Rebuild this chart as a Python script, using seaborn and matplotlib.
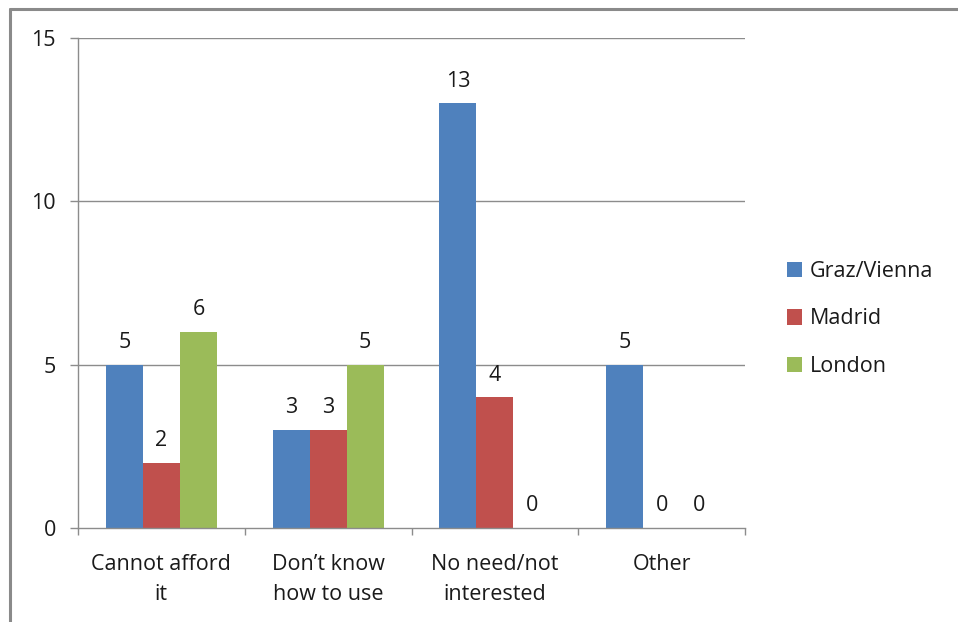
import matplotlib
matplotlib.use("Agg")
import matplotlib.pyplot as plt
from matplotlib.lines import Line2D
from matplotlib.patches import Patch
import seaborn as sns
import pandas as pd

categories = ["Cannot afford\nit", "Don\u2019t know\nhow to use", "No need/not\ninterested", "Other"]
series_names = ["Graz/Vienna", "Madrid", "London"]
graz_vienna = [5, 3, 13, 5]
madrid = [2, 3, 4, 0]
london = [6, 5, 0, 0]
y_ticks = [0, 5, 10, 15]
colors = ["#4F81BD", "#C0504D", "#9BBB59"]

rows = []
for name, vals in zip(series_names, [graz_vienna, madrid, london]):
    for c, v in zip(categories, vals):
        rows.append({"category": c, "series": name, "value": v})
df = pd.DataFrame(rows)

sns.set_theme(style="white")
plt.rcParams["font.family"] = ["Open Sans", "DejaVu Sans"]
FS = 15.5

fig = plt.figure(figsize=(9.58, 6.22), dpi=100)
ax = fig.add_axes([78/958, 1-528/622, (745-78)/958, (528-38)/622])

sns.barplot(data=df, x="category", y="value", hue="series", order=categories,
            hue_order=series_names, palette=colors, width=2/3, dodge=True,
            saturation=1, ax=ax, legend=False, errorbar=None, linewidth=0)

for cont in ax.containers:
    ax.bar_label(cont, fmt="%g", padding=8.5, fontsize=FS, color="#1a1a1a")

ax.set_ylim(0, 15)
ax.set_xlim(-0.5, len(categories) - 0.5)
ax.set_yticks(y_ticks)
ax.set_yticklabels([str(t) for t in y_ticks])
ax.set_xlabel("")
ax.set_ylabel("")

ax.grid(False)
for t in y_ticks[1:]:
    ax.axhline(t, color="#8c8c8c", lw=1.0, zorder=0)

for side in ["top", "right"]:
    ax.spines[side].set_visible(False)
ax.spines["left"].set_color("#8c8c8c")
ax.spines["bottom"].set_color("#8c8c8c")
ax.spines["left"].set_linewidth(1.0)
ax.spines["bottom"].set_linewidth(1.0)

ax.tick_params(axis="y", which="major", left=True, length=6, width=1.0,
               color="#8c8c8c", pad=10, labelsize=FS, labelcolor="#1a1a1a")
ax.tick_params(axis="x", which="major", bottom=False, length=0, pad=19,
               labelsize=FS, labelcolor="#1a1a1a")
ax.set_xticks([i - 0.5 for i in range(len(categories) + 1)], minor=True)
ax.tick_params(axis="x", which="minor", bottom=True, length=5, width=1.0,
               color="#8c8c8c", direction="out")
for lab in ax.get_xticklabels():
    lab.set_linespacing(1.55)

handles = [Patch(facecolor=c, edgecolor="none", label=n) for c, n in zip(colors, series_names)]
fig.legend(handles=handles, loc="center left", bbox_to_anchor=(768/958, 1-319/622),
           frameon=False, fontsize=FS, handlelength=0.7, handleheight=0.7,
           handletextpad=0.35, labelspacing=1.25, labelcolor="#1a1a1a")

# chart border
fig.add_artist(Line2D([9.5/958, 1.0], [1-9/622, 1-9/622], color="#8a8a8a", lw=2.2,
                      transform=fig.transFigure))
fig.add_artist(Line2D([10/958, 10/958], [0, 1-9/622], color="#8a8a8a", lw=2.2,
                      transform=fig.transFigure))

fig.savefig("out.png", dpi=100, facecolor="white")
